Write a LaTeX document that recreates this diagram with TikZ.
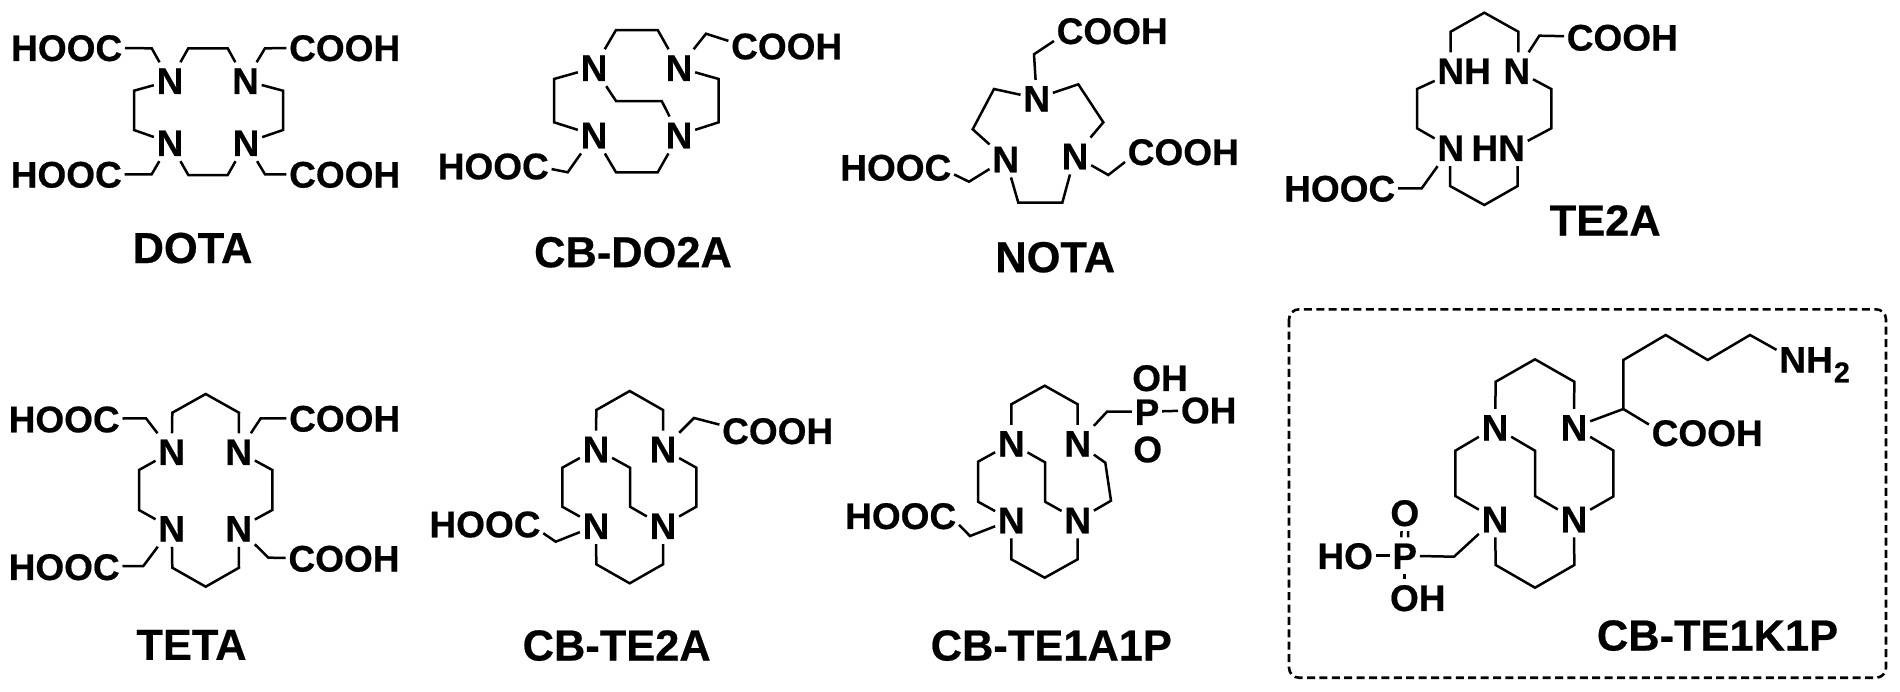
\documentclass[tikz,border=0pt]{standalone}
\usepackage{fontspec}
\setmainfont{Liberation Sans}[BoldFeatures={FakeBold=0.5}]
\tikzset{
  atom/.style={inner xsep=1.2pt,inner ysep=2.4pt,font=\fontsize{18.5}{20}\selectfont\bfseries,text height=13.25pt,text depth=0pt},
  title/.style={inner sep=0pt,font=\fontsize{21.7}{24}\selectfont\bfseries,text height=15.5pt,text depth=0pt},
  bond/.style={draw=black,line width=1.25pt,line join=miter},
  dbox/.style={draw=black,line width=1.3pt,dash pattern=on 4pt off 2.2pt,rounded corners=5pt}
}
\newcommand{\atm}[4]{\node[atom] (#1) at (#2,#3) {#4};}
\newcommand{\vtx}[3]{\coordinate (#1) at (#2,#3);}
\newcommand{\ttl}[4]{\node[title] (#1) at (#2,#3) {#4};}
\begin{document}
\begin{tikzpicture}[x=0.5pt,y=-0.5pt]
\useasboundingbox (0,0) rectangle (1900,691);
\fill[white] (0,0) rectangle (1900,691);
% DOTA
\atm{aN1}{170}{80.7}{N}\atm{aN2}{245.5}{80.7}{N}\atm{aN3}{170}{142.7}{N}\atm{aN4}{246}{142.7}{N}
\atm{aH1}{66.7}{47.7}{HOOC}\atm{aC1}{344.7}{47.7}{COOH}\atm{aH2}{66.3}{174.3}{HOOC}\atm{aC2}{344.7}{174.3}{COOH}
\vtx{at1}{188.3}{48.3}\vtx{at2}{227.7}{48.3}\vtx{al1}{134}{90.7}\vtx{al2}{134}{130}\vtx{ar1}{283}{90.7}\vtx{ar2}{283}{130}
\vtx{ab1}{188.3}{175}\vtx{ab2}{227.7}{175}\vtx{as1}{151.7}{48.3}\vtx{as2}{265}{48.3}\vtx{as3}{151.7}{174.3}\vtx{as4}{265}{174.3}
\draw[bond] (aN1)--(at1)--(at2)--(aN2);
\draw[bond] (aN2)--(ar1)--(ar2)--(aN4);
\draw[bond] (aN4)--(ab2)--(ab1)--(aN3);
\draw[bond] (aN3)--(al2)--(al1)--(aN1);
\draw[bond] (aN1)--(as1)--(aH1);
\draw[bond] (aN2)--(as2)--(aC1);
\draw[bond] (aN3)--(as3)--(aH2);
\draw[bond] (aN4)--(as4)--(aC2);
\ttl{aT}{192.5}{247.5}{DOTA}
% CB-DO2A
\atm{bN1}{594}{67.7}{N}\atm{bN2}{679}{67.7}{N}\atm{bN3}{594}{135}{N}\atm{bN4}{679}{135}{N}
\atm{bC}{786.7}{46}{COOH}\atm{bH}{493.3}{166}{HOOC}
\vtx{bt1}{616}{30}\vtx{bt2}{657.7}{30}\vtx{bl1}{554}{79}\vtx{bl2}{554}{122.3}\vtx{br1}{718.7}{79}\vtx{br2}{718.7}{122.3}
\vtx{bb1}{616}{172.3}\vtx{bb2}{657.7}{172.3}\vtx{bm1}{616}{101}\vtx{bm2}{661.7}{101}\vtx{bs1}{706}{33.7}\vtx{bs2}{567.7}{172.3}
\draw[bond] (bN1)--(bt1)--(bt2)--(bN2);
\draw[bond] (bN2)--(br1)--(br2)--(bN4);
\draw[bond] (bN4)--(bb2)--(bb1)--(bN3);
\draw[bond] (bN3)--(bl2)--(bl1)--(bN1);
\draw[bond] (bN1)--(bm1)--(bm2)--(bN4);
\draw[bond] (bN2)--(bs1)--(bC.175);
\draw[bond] (bN3)--(bs2)--(bH.357);
\ttl{bT}{633}{251.7}{CB-DO2A}
% NOTA
\atm{cN1}{1036.7}{98.3}{N}\atm{cN2}{1005.7}{159}{N}\atm{cN3}{1075}{156}{N}
\atm{cC1}{1112.2}{30.7}{COOH}\atm{cH}{895.8}{167.3}{HOOC}\atm{cC2}{1183.3}{151.7}{COOH}
\vtx{cl1}{994}{89}\vtx{cl2}{972.7}{129.3}\vtx{cr1}{1078.3}{84.3}\vtx{cr2}{1103.3}{122.3}\vtx{cb1}{1018.3}{202.7}\vtx{cb2}{1062.3}{202.7}
\vtx{cs1}{1034}{54.3}\vtx{cs2}{969}{181.7}\vtx{cs3}{1108.3}{175}
\draw[bond] (cN1)--(cl1)--(cl2)--(cN2);
\draw[bond] (cN1)--(cr1)--(cr2)--(cN3);
\draw[bond] (cN2)--(cb1)--(cb2)--(cN3);
\draw[bond] (cN1)--(cs1)--(cC1.190);
\draw[bond] (cN2)--(cs2)--(cH.353);
\draw[bond] (cN3)--(cs3)--(cC2.190);
\ttl{cT}{1055.2}{256.7}{NOTA}
% TE2A
\atm{dN1}{1464.2}{70.7}{NH}\atm{dN2}{1516.8}{70.7}{N}\atm{dN3}{1450.8}{147.7}{N}\atm{dN4}{1498.2}{147.7}{HN}
\atm{dC}{1622.3}{37.3}{COOH}\atm{dH}{1339.7}{188.3}{HOOC}
\vtx{dt1}{1450.7}{31.7}\vtx{dt2}{1484.3}{12.7}\vtx{dt3}{1518.3}{31.7}\vtx{dl1}{1417}{89}\vtx{dl2}{1417}{128.3}
\vtx{dr1}{1551.3}{89}\vtx{dr2}{1551.3}{128.3}\vtx{db1}{1450}{186}\vtx{db2}{1484.3}{205}\vtx{db3}{1517.7}{186}
\vtx{ds1}{1539.3}{35.7}\vtx{ds2}{1421.7}{188.3}
\draw[bond] (dt1|-dN1.north)--(dt1)--(dt2)--(dt3)--(dt3|-dN2.north);
\draw[bond] (dN1.199)--(dl1)--(dl2)--(dN3);
\draw[bond] (dN2)--(dr1)--(dr2)--(dN4.13);
\draw[bond] (db1|-dN3.south)--(db1)--(db2)--(db3)--(db3|-dN4.south);
\draw[bond] (dN2)--(ds1)--(dC);
\draw[bond] (dN3)--(ds2)--(dH);
\ttl{dT}{1605.2}{220}{TE2A}
% TETA
\atm{eN1}{171.7}{451.7}{N}\atm{eN2}{238.7}{451.7}{N}\atm{eN3}{171.7}{528.3}{N}\atm{eN4}{238.7}{528.3}{N}
\atm{eH1}{64.2}{419}{HOOC}\atm{eC1}{344.7}{418.3}{COOH}\atm{eH2}{64.2}{566.7}{HOOC}\atm{eC2}{344}{558.3}{COOH}
\vtx{et1}{172.3}{412.7}\vtx{et2}{205.7}{394}\vtx{et3}{239}{412.7}\vtx{el1}{139}{470}\vtx{el2}{139}{510}\vtx{er1}{272.3}{470}\vtx{er2}{272.3}{510}
\vtx{eb1}{172.3}{567.7}\vtx{eb2}{205.7}{586.7}\vtx{eb3}{239}{567.7}
\vtx{es1}{146}{418.3}\vtx{es2}{260.7}{418.3}\vtx{es3}{143.3}{566}\vtx{es4}{268.3}{557.7}
\draw[bond] (eN1)--(et1)--(et2)--(et3)--(eN2);
\draw[bond] (eN2)--(er1)--(er2)--(eN4);
\draw[bond] (eN4)--(eb3)--(eb2)--(eb1)--(eN3);
\draw[bond] (eN3)--(el2)--(el1)--(eN1);
\draw[bond] (eN1)--(es1)--(eH1);
\draw[bond] (eN2)--(es2)--(eC1);
\draw[bond] (eN3)--(es3)--(eH2);
\draw[bond] (eN4)--(es4)--(eC2);
\ttl{eT}{191.5}{644.3}{TETA}
% CB-TE2A
\atm{fN1}{596}{449}{N}\atm{fN2}{663}{449}{N}\atm{fN3}{596}{525.7}{N}\atm{fN4}{663}{525.7}{N}
\atm{fC}{777.7}{430.7}{COOH}\atm{fH}{485}{524}{HOOC}
\vtx{ft1}{596.3}{410}\vtx{ft2}{629.7}{391}\vtx{ft3}{663}{410}\vtx{fl1}{562.3}{467.7}\vtx{fl2}{562.3}{506.7}\vtx{fr1}{696.3}{467.7}\vtx{fr2}{696.3}{506.7}
\vtx{fb1}{596.3}{564.3}\vtx{fb2}{629.7}{583.3}\vtx{fb3}{663}{564.3}\vtx{fm1}{630}{467.7}\vtx{fm2}{630}{506.7}\vtx{fs1}{694}{418}\vtx{fs2}{555.7}{541.7}
\draw[bond] (fN1)--(ft1)--(ft2)--(ft3)--(fN2);
\draw[bond] (fN2)--(fr1)--(fr2)--(fN4);
\draw[bond] (fN4)--(fb3)--(fb2)--(fb1)--(fN3);
\draw[bond] (fN3)--(fl2)--(fl1)--(fN1);
\draw[bond] (fN1)--(fm1)--(fm2)--(fN4);
\draw[bond] (fN2)--(fs1)--(fC.174);
\draw[bond] (fN3)--(fs2)--(fH.351);
\ttl{fT}{616.7}{645}{CB-TE2A}
% CB-TE1A1P
\atm{gN1}{1011.3}{443.3}{N}\atm{gN2}{1077.7}{443.3}{N}\atm{gN3}{1011.3}{520}{N}\atm{gN4}{1077.7}{520}{N}
\atm{gH}{900.7}{515.7}{HOOC}\atm{gP}{1147}{411.7}{P}\atm{gO}{1147.7}{449}{O}\atm{gOH1}{1160}{377.7}{OH}\atm{gOH2}{1208.7}{410}{OH}
\vtx{gt1}{1011.3}{404.3}\vtx{gt2}{1044.7}{385.7}\vtx{gt3}{1077.7}{404.3}\vtx{gl1}{978}{461.7}\vtx{gl2}{978}{501.7}\vtx{gr1}{1105.3}{462.7}\vtx{gr2}{1111}{500.7}
\vtx{gb1}{1011.3}{559.3}\vtx{gb2}{1044.7}{577.7}\vtx{gb3}{1077.7}{559.3}\vtx{gm1}{1045}{462.3}\vtx{gm2}{1045}{501.7}\vtx{gs1}{1107}{411.7}\vtx{gs2}{970}{536}
\draw[bond] (gN1)--(gt1)--(gt2)--(gt3)--(gN2);
\draw[bond] (gN2)--(gr1)--(gr2)--(gN4);
\draw[bond] (gN4)--(gb3)--(gb2)--(gb1)--(gN3);
\draw[bond] (gN3)--(gl2)--(gl1)--(gN1);
\draw[bond] (gN1)--(gm1)--(gm2)--(gN4);
\draw[bond] (gN2)--(gs1)--(gP);
\draw[bond] (gP)--(gOH2);
\draw[bond] (gN3)--(gs2)--(gH.351);
\ttl{gT}{1051.3}{645}{CB-TE1A1P}
% CB-TE1K1P
\draw[dbox] (1289,309.3) rectangle (1886,677.7);
\atm{hN1}{1495}{427.3}{N}\atm{hN2}{1574}{427.3}{N}\atm{hN3}{1495}{519}{N}\atm{hN4}{1574}{519}{N}
\atm{hP}{1404.7}{555.7}{P}\atm{hHO}{1345.2}{555.7}{HO}\atm{hO}{1404.8}{512.7}{O}\atm{hOH}{1417.8}{597.7}{OH}\atm{hC}{1707.2}{432.7}{COOH}
\node[atom,anchor=west] (hNH) at (1776.5,359.3) {NH\smash{\raisebox{-4.85pt}{\hspace{0.6pt}\fontsize{14.3}{14}\selectfont 2}}};
\vtx{ht1}{1495.7}{381.7}\vtx{ht2}{1535}{359.3}\vtx{ht3}{1574.3}{381.7}\vtx{hl1}{1455.3}{450.7}\vtx{hl2}{1455.3}{496}\vtx{hr1}{1613.3}{450.5}\vtx{hr2}{1613.3}{496.5}
\vtx{hb1}{1495.7}{565}\vtx{hb2}{1535}{587.7}\vtx{hb3}{1574.3}{565}\vtx{hm1}{1535}{450.7}\vtx{hm2}{1535}{496}\vtx{hs1}{1454}{556.7}
\vtx{hk1}{1623.3}{409}\vtx{hk2}{1623.3}{360}\vtx{hk3}{1665.7}{335}\vtx{hk4}{1707.7}{360}\vtx{hk5}{1750}{335}
\draw[bond] (hN1)--(ht1)--(ht2)--(ht3)--(hN2);
\draw[bond] (hN2)--(hr1)--(hr2)--(hN4);
\draw[bond] (hN4)--(hb3)--(hb2)--(hb1)--(hN3);
\draw[bond] (hN3)--(hl2)--(hl1)--(hN1);
\draw[bond] (hN1)--(hm1)--(hm2)--(hN4);
\draw[bond] (hN3)--(hs1)--(hP);
\draw[bond] (hHO)--(hP);
\draw[bond] ([xshift=-1.65pt]hO.south)--([xshift=-1.65pt]hP.north);
\draw[bond] ([xshift=1.65pt]hO.south)--([xshift=1.65pt]hP.north);
\draw[bond] (hP.south)--(hP.south|-hOH.north);
\draw[bond] (hN2)--(hk1)--(hk2)--(hk3)--(hk4)--(hk5)--(hNH.166);
\draw[bond] (hk1)--(hC.172);
\ttl{hT}{1717.5}{635}{CB-TE1K1P}
\end{tikzpicture}
\end{document}
